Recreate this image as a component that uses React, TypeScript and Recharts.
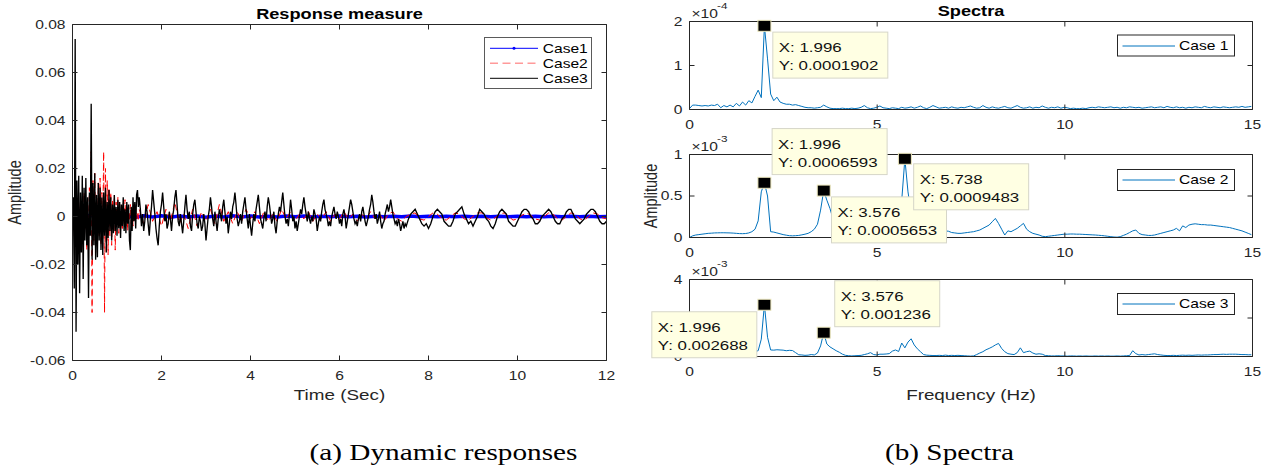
import React from 'react';
import { LineChart, Line, XAxis, YAxis, ReferenceDot } from 'recharts';

// ---------------- DATA ----------------
// (a) Dynamic responses — amplitudes in units of 1e-3
const TIME_TICKS = [0, 2, 4, 6, 8, 10, 12];
const AMP_TICKS = [-0.06, -0.04, -0.02, 0, 0.02, 0.04, 0.06, 0.08];
const EARLY_STEP = 0.02; // s, early samples start at t = 0
const LATE_START = 1.5; // s
const CASE3_MID_STEP = 0.025; // s, from 1.5 s to 7.5 s
const CASE3_TAIL_START = 7.5; // s
const CASE3_TAIL_STEP = 0.05;
const CASE2_LATE_STEP = 0.1;
const CASE1_STEP = 0.2;

const case1Amp = [
  0.5, -0.8, 0.6, -0.5, 0.4, -0.3, 0.3, -0.4, 0.3, -0.2,
  0.3, -0.3, 0.2, -0.2, 0.2, -0.3, 0.2, -0.2, 0.3, -0.2,
  0.2, -0.2, 0.1, -0.2, 0.2, -0.1, 0.2, -0.2, 0.1, -0.1,
  0.2, -0.1, 0.1, -0.2, 0.1, -0.1, 0.1, -0.1, 0.2, -0.1,
  0.1, -0.1, 0.1, -0.1, 0.1, -0.1, 0.1, -0.1, 0.1, -0.1,
  0.1, -0.1, 0.1, -0.1, 0.1, -0.1, 0.1, -0.1, 0.1, -0.1,
  0,
];

const case2Early = [
  -3, 5, -8, 6, -4, 8, -10, 4, -6, 9,
  -12, 5, -8, 10, -6, 7, -14, 6, -9, 12,
  -5, 27, -40, 15, -10, 18, -12, 9, -15, 14,
  -8, 16, -12, 10, -6, 27, -40, 20, -10, 15,
  -16, 12, -8, 10, -12, 7, -5, 9, -14, 6,
  -4, 8, -7, 5, -6, 4, -5, 6, -3, 7,
  -4, 3, -6, 4, -2, 5, -3, 3, -4, 2,
  -2, 3, -1, 2, -2,
];
const case2Late = [
  3, -3, 5, -2, 2, -4, 3, -2, 6, -3,
  1, -5, 3, -4, 2, -2, 3, -3, 5, -2,
  2, -3, 2, -2, 3, -1, 2, -3, 2, -2,
  1, -2, 3, -1, 2, -2, 1, -1, 2, -2,
  1, -1, 2, -2, 1, -1, 2, -1, 1, -2,
  1, -1, 2, -1, 1, -2, 1, 2, -1, -2,
  0, 1, 1.5, -1, -1.5, 0, 1.5, 1, -1, -1.5,
  0, 1.5, 1, -1, -1.5, 0, 1.5, 1.5, -0.5, -1.5,
  -0.5, 1, 1.5, 0, -1.5, -1, 0.5, 1.5, 0.5, -1,
  -1.5, 0, 1.5, 1, -1, -1.5, 0, 1.5, 1, -1,
  -1.5, 0, 1.5, 1, -0.5, -1,
];

const case3Early = [
  0, 8, -30, 74, -48, 15, -20, 17, -32, 10,
  -15, 17, -26, 12, -10, 16, -12, 8, -34, 10,
  -8, 47, -18, 14, -12, 18, -18, 9, -17, 14,
  -10, 12, -14, 8, -16, 10, -8, 12, -15, 6,
  -9, 11, -6, 8, -10, 5, -7, 9, -6, 4,
  -8, 7, -5, 6, -9, 5, -4, 8, -6, 3,
  -7, 6, -3, 5, -10, -14, 4, -6, 8, -2,
  6, -5, 9, 11, 4,
];
const case3Mid = [
  8, 3, -4, 1, -6, -2, 5, 2, -3, -8, -1, 4, 11, 6, 1, -5, -9, -12, -4, 2,
  5, 10, 4, -2, 1, -5, -3, 2, -1, -6, 0, 3, 8, 11, 5, -2, -4, 1, -3, -7,
  -2, 4, 9, 3, -1, 2, -4, -6, 1, 5, 7, 2, -3, -5, 0, -2, -6, -4, 1, -3,
  -10, -5, 0, 3, 8, 4, -1, -4, 2, -2, -6, -1, 3, 1, -2, 4, 7, 2, -3, 0,
  -7, -3, 2, -1, 4, 6, 10, 5, -1, -4, -2, 1, -3, 2, 5, 8, 3, -1, -5, 1,
  -4, -8, -3, 1, -2, 3, 6, 9, 4, -1, -3, -5, -1, 2, -2, 4, 8, 5, 1, -3,
  -1, 2, -4, -7, -2, 1, 4, 2, 6, 10, 5, 0, -3, -1, -4, 1, 7, 3, -2, 0,
  -5, -2, -6, -3, 0, 3, 1, 5, 8, 4, 1, -2, 2, -1, -3, 0, -2, 3, 1, -1,
  -6, -3, 0, -2, 2, 5, 7, 3, 1, -1, -4, -2, -4, 0, 2, 4, 1, -1, 2, 0,
  -3, -1, -4, 1, 3, 0, -5, -2, 1, 4, 7, 5, 2, -1, -3, -2, -4, -1, 1, -2,
  2, 4, 1, -2, -4, -2, 0, 3, 5, 9, 6, 2, -1, 1, -3, -1, 2, -2, -5, -3,
  -2, 1, 3, 5, 2, 4, 7, 4, 1, -1, -3, -2, -4, -1, -3, -6, -4, -2, -5, -3,
];
const case3Tail = [
  -4, -1, 1, 2, 3, 1, -1, -3, -4, -3,
  -5, -3, 0, 2, 3, 2, 1, -2, -3, -4,
  -4, -2, 1, 2, 3, 4, 1, -1, -3, -2,
  -4, -2, 0, 3, 2, 1, -1, -2, -4, -5,
  -3, 0, 2, 3, 2, 1, -2, -3, -4, -4,
  -2, 0, 2, 3, 3, 2, 0, -1, -3, -3,
  -2, 0, 1, 2, 3, 2, 0, -2, -3, -3,
  -1, 0, 2, 3, 3, 1, -1, -2, -3, -2,
  -1, 1, 2, 3, 3, 2, 0, -2, -3, -3,
  -2,
];

// (b) Spectra — frequency bin width (Hz) and amplitudes in units of 10^exp
const DF = 0.08316;
const FREQ_TICKS = [0, 5, 10, 15];
const SPEC1_TICKS = [0, 1, 2];
const SPEC2_TICKS = [0, 0.5, 1];
const SPEC3_TICKS = [0, 2, 4];
const SPEC1_EXP = -4;
const SPEC2_EXP = -3;
const SPEC3_EXP = -3;

const spec1 = [
  0.02, 0.1, 0.1, 0.09, 0.08, 0.09, 0.08, 0.1, 0.09, 0.12,
  0.04, 0.09, 0.06, 0.1, 0.06, 0.14, 0.08, 0.17, 0.1, 0.2,
  0.15, 0.3, 0.44, 0.27, 1.902, 1.15, 0.35, 0.2, 0.28, 0.17,
  0.14, 0.12, 0.12, 0.1, 0.11, 0.09, 0.07, 0.05, 0.04, 0.04,
  0.03, 0.04, 0.05, 0.1, 0.06, 0.03, 0.02, 0.02, 0.02, 0.03,
  0.02, 0.02, 0.03, 0.02, 0.03, 0.05, 0.09, 0.04, 0.02, 0.03,
  0.05, 0.08, 0.04, 0.03, 0.02, 0.04, 0.03, 0.02, 0.05, 0.03,
  0.04, 0.06, 0.03, 0.05, 0.08, 0.04, 0.02, 0.05, 0.09, 0.06,
  0.03, 0.04, 0.05, 0.03, 0.06, 0.04, 0.03, 0.05, 0.04, 0.06,
  0.08, 0.05, 0.03, 0.04, 0.09, 0.05, 0.03, 0.06, 0.04, 0.03,
  0.05, 0.07, 0.04, 0.03, 0.06, 0.09, 0.05, 0.03, 0.04, 0.06,
  0.03, 0.05, 0.04, 0.08, 0.05, 0.03, 0.05, 0.04, 0.06, 0.03,
  0.05, 0.04, 0.02, 0.03, 0.02, 0.02, 0.03, 0.02, 0.04, 0.05,
  0.04, 0.06, 0.05, 0.04, 0.05, 0.06, 0.04, 0.05, 0.03, 0.05,
  0.04, 0.06, 0.05, 0.04, 0.05, 0.03, 0.04, 0.05, 0.06, 0.04,
  0.05, 0.06, 0.04, 0.07, 0.05, 0.04, 0.06, 0.04, 0.05, 0.03,
  0.05, 0.04, 0.06, 0.05, 0.04, 0.07, 0.05, 0.04, 0.06, 0.05,
  0.04, 0.06, 0.05, 0.04, 0.05, 0.06, 0.05, 0.07, 0.05, 0.06,
  0.07,
];
const spec2 = [
  0, 0.02, 0.03, 0.035, 0.04, 0.045, 0.05, 0.052, 0.055, 0.056,
  0.057, 0.057, 0.056, 0.055, 0.053, 0.05, 0.047, 0.046, 0.048, 0.055,
  0.07, 0.1, 0.2, 0.55, 0.6593, 0.5, 0.07, 0.065, 0.055, 0.045,
  0.035, 0.028, 0.022, 0.02, 0.022, 0.025, 0.032, 0.04, 0.05, 0.07,
  0.1, 0.16, 0.33, 0.5653, 0.45, 0.35, 0.22, 0.12, 0.09, 0.07,
  0.06, 0.05, 0.05, 0.045, 0.045, 0.05, 0.05, 0.055, 0.06, 0.065,
  0.07, 0.08, 0.09, 0.1, 0.12, 0.14, 0.18, 0.25, 0.45, 0.9483,
  0.55, 0.3, 0.2, 0.15, 0.12, 0.1, 0.09, 0.08, 0.07, 0.065,
  0.06, 0.065, 0.08, 0.075, 0.06, 0.055, 0.05, 0.05, 0.055, 0.06,
  0.065, 0.07, 0.08, 0.09, 0.11, 0.13, 0.15, 0.19, 0.23, 0.17,
  0.1, 0.03, 0.08, 0.07, 0.09, 0.11, 0.14, 0.17, 0.1, 0.07,
  0.05, 0.04, 0.03, 0.015, 0.01, 0.015, 0.02, 0.025, 0.03, 0.035,
  0.04, 0.04, 0.042, 0.042, 0.04, 0.04, 0.038, 0.036, 0.034, 0.032,
  0.03, 0.027, 0.024, 0.02, 0.015, 0.01, 0.006, 0.004, 0.01, 0.025,
  0.04, 0.06, 0.08, 0.09, 0.05, 0.035, 0.03, 0.025, 0.025, 0.03,
  0.04, 0.05, 0.06, 0.07, 0.08, 0.09, 0.11, 0.08, 0.14, 0.12,
  0.15, 0.16, 0.165, 0.16, 0.155, 0.155, 0.15, 0.15, 0.145, 0.14,
  0.135, 0.13, 0.125, 0.12, 0.11, 0.1, 0.09, 0.08, 0.065, 0.05,
  0.035,
];
const spec3 = [
  0.1, 0.15, 0.12, 0.1, 0.12, 0.15, 0.1, 0.08, 0.12, 0.15,
  0.1, 0.12, 0.14, 0.1, 0.12, 0.15, 0.13, 0.16, 0.2, 0.18,
  0.2, 0.26, 0.3, 0.9, 2.688, 1.0, 0.34, 0.33, 0.35, 0.34,
  0.33, 0.3, 0.32, 0.31, 0.2, 0.09, 0.08, 0.06, 0.07, 0.1,
  0.08, 0.18, 0.55, 1.236, 0.65, 0.5, 0.4, 0.3, 0.22, 0.12,
  0.06, 0.04, 0.03, 0.04, 0.05, 0.06, 0.1, 0.14, 0.2, 0.1,
  0.08, 0.12, 0.12, 0.13, 0.15, 0.28, 0.34, 0.26, 0.7, 0.45,
  0.75, 0.92, 0.6, 0.4, 0.25, 0.1, 0.07, 0.06, 0.05, 0.05,
  0.06, 0.05, 0.07, 0.05, 0.06, 0.05, 0.06, 0.05, 0.04, 0.03,
  0.02, 0.03, 0.1, 0.18, 0.25, 0.35, 0.42, 0.5, 0.6, 0.68,
  0.42, 0.25, 0.15, 0.12, 0.1, 0.2, 0.45, 0.2, 0.25, 0.28,
  0.18, 0.12, 0.14, 0.12, 0.05, 0.04, 0.03, 0.03, 0.04, 0.03,
  0.03, 0.02, 0.03, 0.03, 0.02, 0.03, 0.02, 0.03, 0.02, 0.02,
  0.03, 0.02, 0.03, 0.02, 0.03, 0.02, 0.02, 0.03, 0.02, 0.03,
  0.04, 0.05, 0.3, 0.15, 0.08, 0.1, 0.08, 0.1, 0.12, 0.14,
  0.1, 0.08, 0.06, 0.05, 0.05, 0.06, 0.05, 0.06, 0.07, 0.06,
  0.07, 0.06, 0.07, 0.08, 0.07, 0.08, 0.08, 0.09, 0.1, 0.1,
  0.11, 0.12, 0.11, 0.12, 0.12, 0.12, 0.11, 0.1, 0.1, 0.09,
  0.09,
];

// data tips (frequency Hz, amplitude)
const SPEC1_TIPS = [{ x: 1.996, y: 0.0001902 }];
const SPEC2_TIPS = [
  { x: 1.996, y: 0.0006593 },
  { x: 3.576, y: 0.0005653 },
  { x: 5.738, y: 0.0009483 },
];
const SPEC3_TIPS = [
  { x: 1.996, y: 0.002688 },
  { x: 3.576, y: 0.001236 },
];

// ---------------- STYLE ----------------
const SX = 1.3;
const SANS = "'Liberation Sans', Arial, Helvetica, sans-serif";
const SERIF = "'Liberation Serif', 'Times New Roman', serif";
const INK = '#262626';
const SPEC_COLOR = '#0072BD';
const TIP_OFFSETS1 = [{ dx: 8.4, dy: 6.3 }];
const TIP_OFFSETS2 = [{ dx: 7.7, dy: -54.2 }, { dx: 7.8, dy: 6.3 }, { dx: 8.8, dy: 5 }];
const TIP_OFFSETS3 = [{ dx: -112.6, dy: 7 }, { dx: 11, dy: -52 }];

function ST({ x, y, children, anchor = 'start', size = 12, weight = 'normal', fill = INK, family = SANS, rotate = false }: any) {
  const tr = rotate
    ? `translate(${x},${y}) rotate(-90) scale(1,${SX})`
    : `translate(${x},${y}) scale(${SX},1)`;
  return (
    <text transform={tr} x={0} y={0} textAnchor={anchor} fontSize={size} fontWeight={weight} fill={fill} fontFamily={family}>
      {children}
    </text>
  );
}

const makeYTick = (fmt: (v: number) => string) => (p: any) => (
  <ST x={p.x - 7} y={p.y + 4.3} anchor="end">{fmt(p.payload.value)}</ST>
);
const makeXTick = (fmt: (v: number) => string) => (p: any) => (
  <ST x={p.x} y={p.y + 19.5} anchor="middle">{fmt(p.payload.value)}</ST>
);
const NoTick = () => <g />;

const fmtAmp = (v: number) => (Math.abs(v) < 1e-9 ? '0' : v.toFixed(2));
const fmtPlain = (v: number) => String(v);

// ---------------- BUILD SERIES ----------------
const case1Data = case1Amp.map((v, i) => ({ t: i * CASE1_STEP, v: v / 1000 }));
const case2Data = [
  ...case2Early.map((v, i) => ({ t: i * EARLY_STEP, v: v / 1000 })),
  ...case2Late.map((v, i) => ({ t: LATE_START + i * CASE2_LATE_STEP, v: v / 1000 })),
];
const case3Data = [
  ...case3Early.map((v, i) => ({ t: i * EARLY_STEP, v: v / 1000 })),
  ...case3Mid.map((v, i) => ({ t: LATE_START + i * CASE3_MID_STEP, v: v / 1000 })),
  ...case3Tail.map((v, i) => ({ t: CASE3_TAIL_START + i * CASE3_TAIL_STEP, v: v / 1000 })),
];
const specData = (arr: number[]) => arr.map((v, k) => ({ f: k * DF, a: v }));

function makeTipShape(tip: { x: number; y: number }, off: { dx: number; dy: number }, boxW: number) {
  return (p: any) => {
    const cx = p.cx;
    const cy = p.cy;
    const bx = cx + off.dx;
    const by = cy + off.dy;
    return (
      <g>
        <rect x={bx} y={by} width={boxW} height={46} fill="#ffffe3" stroke="#d6d6c8" strokeWidth={1} />
        <ST x={bx + 6} y={by + 20} size={13} fill="#111">{`X: ${tip.x}`}</ST>
        <ST x={bx + 6} y={by + 38} size={13} fill="#111">{`Y: ${tip.y}`}</ST>
        <rect x={cx - 6.5} y={cy - 5.5} width={13} height={11} fill="#000" stroke="#efeac0" strokeWidth={1} />
      </g>
    );
  };
}

function SpecPanel({ data, ticks, exp, top, bottom, tips, offsets, boxW }: any) {
  const H = 473;
  const W = 638;
  const yMax = ticks[ticks.length - 1];
  const scale = Math.pow(10, exp);
  const axisCommon = { allowDataOverflow: true, tickSize: -5, tickMargin: 5, stroke: INK, interval: 0 as any };
  return (
    <>
      <div style={{ position: 'absolute', left: 640, top: 0 }}>
        <LineChart width={W} height={H} margin={{ top: top - 1, right: 24.5, bottom: H - bottom - 30, left: 9.5 }}>
          <XAxis xAxisId="b" dataKey="f" type="number" domain={[0, 15]} ticks={FREQ_TICKS} height={30} tick={makeXTick(fmtPlain)} {...axisCommon} />
          <XAxis xAxisId="t" orientation="top" dataKey="f" type="number" domain={[0, 15]} ticks={FREQ_TICKS} height={1} tick={NoTick} {...axisCommon} />
          <YAxis yAxisId="l" type="number" domain={[0, yMax]} ticks={ticks} width={40} tick={makeYTick(fmtPlain)} {...axisCommon} />
          <YAxis yAxisId="r" orientation="right" type="number" domain={[0, yMax]} ticks={ticks} width={1} tick={NoTick} {...axisCommon} />
          <Line xAxisId="t" yAxisId="r" data={data} dataKey="a" stroke="none" dot={false} activeDot={false} isAnimationActive={false} />
          <Line xAxisId="b" yAxisId="l" data={data} dataKey="a" stroke={SPEC_COLOR} strokeWidth={1} dot={false} activeDot={false} isAnimationActive={false} />
        </LineChart>
      </div>
      {/* data tips drawn above the axes */}
      <div style={{ position: 'absolute', left: 640, top: 0 }}>
        <LineChart width={W} height={H} margin={{ top, right: 25.5, bottom: H - bottom, left: 49.5 }}>
          <XAxis xAxisId="b" hide dataKey="f" type="number" domain={[0, 15]} allowDataOverflow />
          <YAxis yAxisId="l" hide type="number" domain={[0, yMax]} allowDataOverflow />
          <Line xAxisId="b" yAxisId="l" data={data} dataKey="a" stroke="none" dot={false} activeDot={false} isAnimationActive={false} />
          {tips.map((tip: any, i: number) => (
            <ReferenceDot
              key={i}
              xAxisId="b"
              yAxisId="l"
              x={tip.x}
              y={tip.y / scale}
              r={0}
              ifOverflow="visible"
              shape={makeTipShape(tip, offsets[i], boxW)}
            />
          ))}
        </LineChart>
      </div>
    </>
  );
}

function Exponent({ x, y, exp }: any) {
  return (
    <g>
      <ST x={x} y={y} size={12}>{'\u00d710'}</ST>
      <ST x={x + 25.5} y={y - 9} size={9}>{String(exp)}</ST>
    </g>
  );
}

function SpecLegend({ top, label }: any) {
  const x = 1117.5;
  const ly = Math.round(top + 10.5);
  return (
    <g>
      <rect x={x} y={top} width={117} height={21} fill="#fff" stroke={INK} strokeWidth={1} />
      <line x1={x + 5} x2={x + 57.5} y1={ly} y2={ly} stroke={SPEC_COLOR} strokeWidth={1} />
      <ST x={x + 61.5} y={top + 14.8} size={12} fill="#000">{label}</ST>
    </g>
  );
}

export default function App() {
  const axisCommon = { allowDataOverflow: true, tickSize: -5, tickMargin: 5, stroke: INK, interval: 0 as any };
  return (
    <div style={{ position: 'absolute', left: 0, top: 0, width: 1278, height: 473, background: '#fff', overflow: 'hidden' }}>
      {/* (a) Dynamic responses */}
      <div style={{ position: 'absolute', left: 0, top: 0 }}>
        <LineChart width={640} height={420} margin={{ top: 23.5, right: 32.5, bottom: 29.5, left: 22.5 }}>
          <XAxis xAxisId="b" dataKey="t" type="number" domain={[0, 12]} ticks={TIME_TICKS} height={30} tick={makeXTick(fmtPlain)} {...axisCommon} />
          <XAxis xAxisId="t" orientation="top" dataKey="t" type="number" domain={[0, 12]} ticks={TIME_TICKS} height={1} tick={NoTick} {...axisCommon} />
          <YAxis yAxisId="l" type="number" domain={[-0.06, 0.08]} ticks={AMP_TICKS} width={50} tick={makeYTick(fmtAmp)} {...axisCommon} />
          <YAxis yAxisId="r" orientation="right" type="number" domain={[-0.06, 0.08]} ticks={AMP_TICKS} width={1} tick={NoTick} {...axisCommon} />
          <Line xAxisId="t" yAxisId="r" data={case1Data} dataKey="v" stroke="#0000ff" strokeWidth={3.5} dot={false} activeDot={false} isAnimationActive={false} />
          <Line xAxisId="b" yAxisId="l" data={case2Data} dataKey="v" stroke="#ff0000" strokeWidth={1} strokeDasharray="6 4" dot={false} activeDot={false} isAnimationActive={false} />
          <Line xAxisId="b" yAxisId="l" data={case3Data} dataKey="v" stroke="#000000" strokeWidth={1.35} dot={false} activeDot={false} isAnimationActive={false} />
        </LineChart>
      </div>

      {/* (b) Spectra */}
      <SpecPanel data={specData(spec1)} ticks={SPEC1_TICKS} exp={SPEC1_EXP} top={21.5} bottom={109.5} tips={SPEC1_TIPS} offsets={TIP_OFFSETS1} boxW={115} />
      <SpecPanel data={specData(spec2)} ticks={SPEC2_TICKS} exp={SPEC2_EXP} top={154.5} bottom={237.5} tips={SPEC2_TIPS} offsets={TIP_OFFSETS2} boxW={115} />
      <SpecPanel data={specData(spec3)} ticks={SPEC3_TICKS} exp={SPEC3_EXP} top={279.5} bottom={356.5} tips={SPEC3_TIPS} offsets={TIP_OFFSETS3} boxW={105} />

      {/* static text, legends, captions */}
      <svg width={1278} height={473} style={{ position: 'absolute', left: 0, top: 0, pointerEvents: 'none' }}>
        <ST x={339.5} y={18.7} anchor="middle" size={14} weight="bold" fill="#000">Response measure</ST>
        <ST x={971} y={15.5} anchor="middle" size={14} weight="bold" fill="#000">Spectra</ST>
        <ST x={339.5} y={400} anchor="middle" size={14.5}>Time (Sec)</ST>
        <ST x={971} y={400} anchor="middle" size={14.5}>Frequency (Hz)</ST>
        <ST x={20.5} y={192.5} anchor="middle" size={14.5} rotate>Amplitude</ST>
        <ST x={657} y={196} anchor="middle" size={14.5} rotate>Amplitude</ST>

        <Exponent x={691.5} y={18.3} exp={SPEC1_EXP} />
        <Exponent x={691.5} y={151.3} exp={SPEC2_EXP} />
        <Exponent x={691.5} y={276.3} exp={SPEC3_EXP} />

        {/* left legend */}
        <g>
          <rect x={484.5} y={37.5} width={107} height={51} fill="#fff" stroke="#5a5a5a" strokeWidth={1} />
          <line x1={490} x2={538} y1={48.3} y2={48.3} stroke="#0000ff" strokeWidth={1} />
          <circle cx={514} cy={48.3} r={1.5} fill="#0000ff" />
          <line x1={490} x2={538} y1={63.3} y2={63.3} stroke="#ff9a9a" strokeWidth={1.5} strokeDasharray="8 4.5" />
          <line x1={490} x2={538} y1={78.3} y2={78.3} stroke="#000" strokeWidth={1} />
          <ST x={542.7} y={52.6} size={12} fill="#000">Case1</ST>
          <ST x={542.7} y={67.6} size={12} fill="#000">Case2</ST>
          <ST x={542.7} y={82.6} size={12} fill="#000">Case3</ST>
        </g>

        <SpecLegend top={35} label="Case 1" />
        <SpecLegend top={169.5} label="Case 2" />
        <SpecLegend top={293.5} label="Case 3" />

        <ST x={443.5} y={460} anchor="middle" size={22.5} family={SERIF} fill="#000">(a) Dynamic responses</ST>
        <ST x={949.5} y={460} anchor="middle" size={22.5} family={SERIF} fill="#000">(b) Spectra</ST>
      </svg>
    </div>
  );
}
